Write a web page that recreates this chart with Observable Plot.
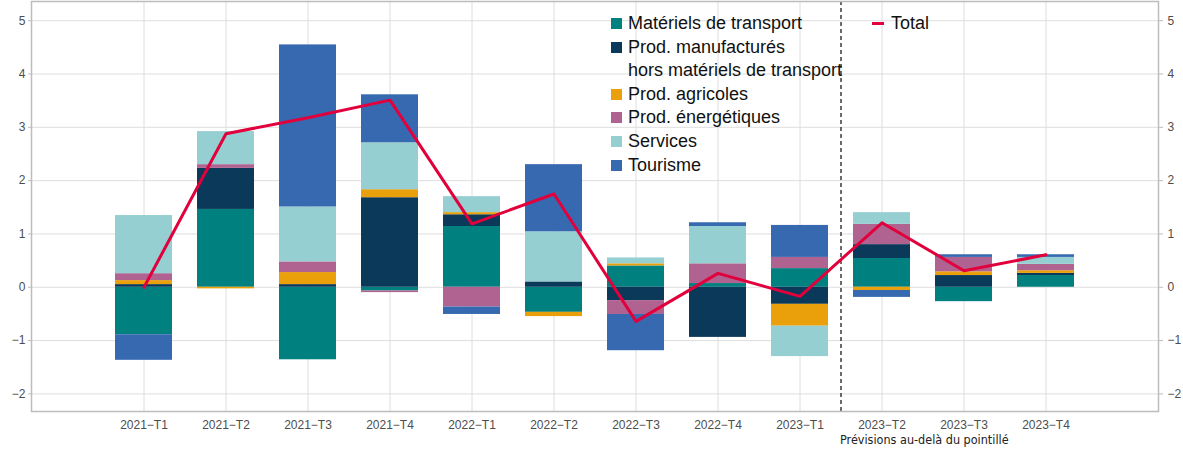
<!DOCTYPE html>
<html>
<head>
<meta charset="utf-8">
<script src="https://cdn.jsdelivr.net/npm/d3@7"></script>
<script src="https://cdn.jsdelivr.net/npm/@observablehq/plot@0.6"></script>
<style>
  body { margin: 0; background: #fff; font-family: "Liberation Sans", Arial, sans-serif; }
  #wrap { position: relative; width: 1183px; height: 452px; }
  .legend { position: absolute; font-size: 18px; line-height: 23.6px; color: #111; }
  .legend .item { position: relative; padding-left: 19px; white-space: pre-line; }
  .legend .sw { position: absolute; left: 2px; top: 6px; width: 11px; height: 11px; }
  .legend .ln { position: absolute; left: 0; top: 10px; width: 12px; height: 3px; }
</style>
</head>
<body>
<div id="wrap"></div>
<script>
const quarters = ["2021−T1","2021−T2","2021−T3","2021−T4","2022−T1","2022−T2","2022−T3","2022−T4","2023−T1","2023−T2","2023−T3","2023−T4"];
const series = ["Matériels de transport","Prod. manufacturés hors matériels de transport","Prod. agricoles","Prod. énergétiques","Services","Tourisme"];
const legendLabels = ["Matériels de transport","Prod. manufacturés\nhors matériels de transport","Prod. agricoles","Prod. énergétiques","Services","Tourisme"];
const colors = ["#008180","#0a3959","#e9a00b","#b06391","#96cfd1","#3769b0"];
const materiels    = [-0.89, 1.46, -1.36, -0.07, 1.14, -0.47, 0.40, 0.07, 0.35, 0.54, -0.27, 0.22];
const manufactures = [0.05, 0.77, 0.05, 1.68, 0.22, 0.10, -0.25, -0.94, -0.32, 0.26, 0.22, 0.04];
const agricoles    = [0.075, -0.03, 0.226, 0.15, 0.04, -0.08, 0.04, 0.0, -0.41, -0.06, 0.07, 0.05];
const energetiques = [0.13, 0.07, 0.20, -0.03, -0.37, 0.0, -0.26, 0.37, 0.21, 0.38, 0.27, 0.12];
const services     = [1.09, 0.62, 1.03, 0.88, 0.30, 0.94, 0.11, 0.70, -0.57, 0.22, 0.0, 0.13];
const tourisme     = [-0.48, 0.0, 3.04, 0.90, -0.14, 1.26, -0.68, 0.07, 0.60, -0.13, 0.05, 0.05];
const total        = [0.0, 2.88, 3.18, 3.51, 1.19, 1.75, -0.64, 0.26, -0.17, 1.21, 0.31, 0.61];
const yTicks = [-2, -1, 0, 1, 2, 3, 4, 5];
const forecastStart = "2023−T2";
const note = "Prévisions au-delà du pointillé";
const totalLabel = "Total";
const totalColor = "#e2003c";

const seriesValues = [materiels, manufactures, agricoles, energetiques, services, tourisme];
const bars = [];
series.forEach((s, si) => quarters.forEach((q, qi) => bars.push({q, s, v: seriesValues[si][qi]})));
const totalData = quarters.map((q, i) => ({q, v: total[i]}));
const fmt = d3.format("d");

const chart = Plot.plot({
  width: 1183,
  height: 452,
  marginLeft: 31,
  marginRight: 25,
  marginTop: 1,
  marginBottom: 41,
  x: {domain: quarters, paddingInner: 0.3, paddingOuter: 1.0, label: null},
  y: {domain: [-2.33, 5.36], label: null},
  color: {domain: series, range: colors},
  style: {fontFamily: "'Liberation Sans', Arial, sans-serif", fontSize: "12px", color: "#4d4d4d", background: "transparent"},
  marks: [
    Plot.gridY(yTicks, {stroke: "#dedede", strokeOpacity: 1, strokeWidth: 1}),
    Plot.gridX({stroke: "#dedede", strokeOpacity: 1, strokeWidth: 1}),
    Plot.barY(bars, {x: "q", y: "v", fill: "s", z: "s"}),
    Plot.ruleX([forecastStart], {dx: -41, stroke: "#3a3a3a", strokeWidth: 1.5, strokeDasharray: "4,3"}),
    Plot.line(totalData, {x: "q", y: "v", stroke: totalColor, strokeWidth: 3}),
    Plot.frame({stroke: "#bdbdbd", strokeWidth: 1.5}),
    Plot.axisY(yTicks, {anchor: "left", tickSize: 3, tickPadding: 3, label: null, stroke: "#bdbdbd", tickFormat: fmt}),
    Plot.axisY(yTicks, {anchor: "right", tickSize: 4, tickPadding: 5, label: null, stroke: "#bdbdbd", tickFormat: fmt}),
    Plot.axisX({tickSize: 0, tickPadding: 9, label: null}),
    Plot.text([note], {x: () => forecastStart, frameAnchor: "bottom", dx: -42, dy: 32, textAnchor: "start",
      fontFamily: "'Liberation Sans Narrow', 'DejaVu Sans Condensed', sans-serif", fontSize: 12.5, fill: "#222"})
  ]
});

const wrap = document.getElementById("wrap");
wrap.appendChild(chart);

const leg = document.createElement("div");
leg.className = "legend";
leg.style.left = "609px";
leg.style.top = "12px";
legendLabels.forEach((lab, i) => {
  const it = document.createElement("div");
  it.className = "item";
  const sw = document.createElement("span");
  sw.className = "sw";
  sw.style.background = colors[i];
  it.appendChild(sw);
  it.appendChild(document.createTextNode(lab));
  leg.appendChild(it);
});
wrap.appendChild(leg);

const leg2 = document.createElement("div");
leg2.className = "legend";
leg2.style.left = "872px";
leg2.style.top = "12px";
const it2 = document.createElement("div");
it2.className = "item";
const ln = document.createElement("span");
ln.className = "ln";
ln.style.background = totalColor;
it2.appendChild(ln);
it2.appendChild(document.createTextNode(totalLabel));
leg2.appendChild(it2);
wrap.appendChild(leg2);
</script>
</body>
</html>
